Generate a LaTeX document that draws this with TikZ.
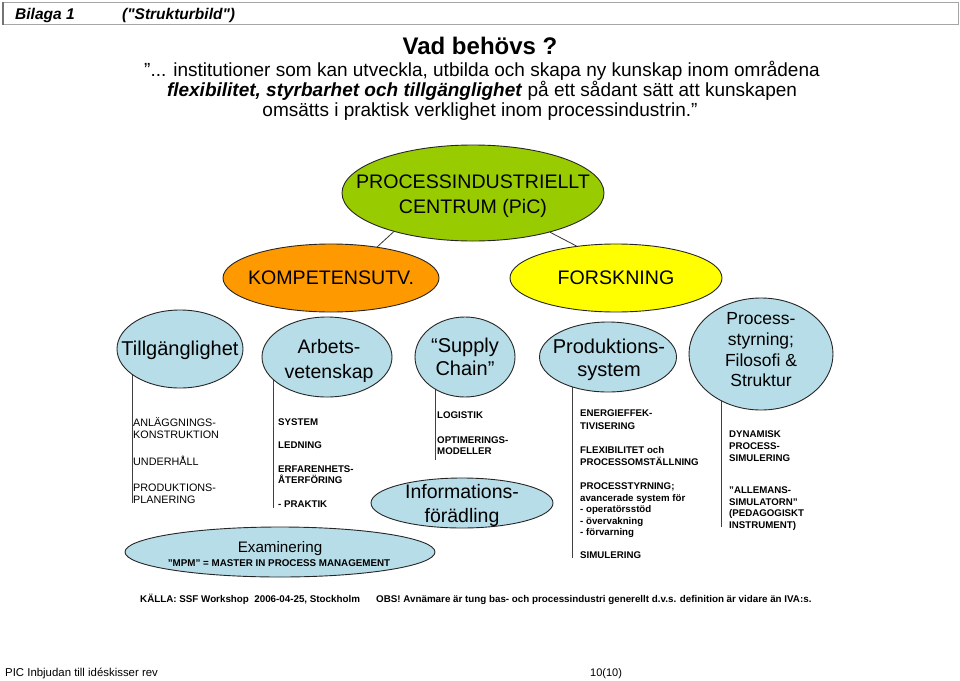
\documentclass[tikz,border=0pt]{standalone}
\usepackage{fontspec}
\setmainfont{Liberation Sans}
\newfontfamily\hdrfont{Liberation Sans}
\usetikzlibrary{shapes.geometric,backgrounds}
\definecolor{picgreen}{HTML}{99CC00}
\definecolor{komporange}{HTML}{FF9900}
\definecolor{forsyellow}{HTML}{FFFF00}
\definecolor{blobblue}{HTML}{B7DDE8}
\definecolor{framegray}{HTML}{A6A6A6}
\newcommand\pxf[2]{\fontsize{#1pt}{#2pt}\selectfont}
\begin{document}
\begin{tikzpicture}[x=1pt,y=-1pt,
  blob/.style={ellipse, draw=black!85, line width=0.9pt, inner sep=0pt},
  lbl/.style={align=center, inner sep=0pt},
  li/.style={anchor=base west, inner sep=0pt, font=\bfseries\pxf{9.7}{9.7}},
  lireg/.style={anchor=base west, inner sep=0pt, font=\pxf{10.8}{10.8}},
  stem/.style={draw=black!75, line width=1pt},
  link/.style={draw=black!80, line width=0.8pt}]
\useasboundingbox (0,0) rectangle (960,680);

% header
\node[draw=framegray, line width=0.8pt, minimum width=955pt, minimum height=22pt, anchor=north west, inner sep=0pt] (hdr) at (3,2) {};
\draw[black!55, line width=1.2pt] (hdr.north west) -- (hdr.south west);
\node[anchor=base west, inner sep=0pt, font=\hdrfont\bfseries\itshape\pxf{15.5}{15.5}] (bil) at (15,19) {Bilaga 1};
\node[anchor=base west, inner sep=0pt, font=\hdrfont\bfseries\itshape\pxf{15.5}{15.5}] (stb) at (122,19) {("Strukturbild")};

% title and quote
\node[anchor=base, inner sep=0pt, font=\bfseries\pxf{24}{24}] (title) at (480,54) {Vad behövs ?};
\node[anchor=base, inner sep=0pt, font=\pxf{19}{19}] (q1) at (482,76) {”... institutioner som kan utveckla, utbilda och skapa ny kunskap inom områdena};
\node[anchor=base, inner sep=0pt, font=\pxf{19}{19}] (q2) at (482,96) {\textbf{\textit{flexibilitet, styrbarhet och tillgänglighet}} på ett sådant sätt att kunskapen};
\node[anchor=base, inner sep=0pt, font=\pxf{19}{19}] (q3) at (480,116) {omsätts i praktisk verklighet inom processindustrin.”};

% main ellipses
\node[blob, fill=picgreen, minimum width=262pt, minimum height=96pt] (pic) at (473,193) {};
\node[lbl, font=\pxf{19.6}{25}] (pict) at (473,196) {PROCESSINDUSTRIELLT\\CENTRUM (PiC)};
\node[blob, fill=komporange, minimum width=216pt, minimum height=68pt] (komp) at (331,278) {};
\node[lbl, font=\pxf{19.6}{25}] (kompt) at (komp) {KOMPETENSUTV.};
\node[blob, fill=forsyellow, minimum width=212pt, minimum height=68pt] (fors) at (616,278) {};
\node[lbl, font=\pxf{19.6}{25}] (forst) at (fors) {FORSKNING};
\draw[link] (pic.206) -- (komp.34);
\draw[link] (pic.333) -- (fors.141);

% blue ellipses
\node[blob, fill=blobblue, minimum width=126pt, minimum height=78pt] (tg) at (180,349) {};
\node[lbl, font=\pxf{20}{24}] (tgt) at (180,350) {Tillgänglighet};
\node[blob, fill=blobblue, minimum width=130pt, minimum height=80pt] (ab) at (327,357) {};
\node[lbl, font=\pxf{19.5}{25}] (abt) at (329,361) {Arbets-\\vetenskap};
\node[blob, fill=blobblue, minimum width=100pt, minimum height=80pt] (sc) at (465,357) {};
\node[lbl, font=\pxf{20}{23}] (sct) at (465,357) {“Supply\\Chain”};
\node[blob, fill=blobblue, minimum width=137pt, minimum height=70pt] (ps) at (608,357) {};
\node[lbl, font=\pxf{20}{23}] (pst) at (609,360) {Produktions-\\system};
\node[blob, fill=blobblue, minimum width=144pt, minimum height=112pt] (pr) at (761,354) {};
\node[lbl, font=\pxf{17.5}{20.7}] (prt) at (761,350) {Process-\\styrning;\\Filosofi \&\\Struktur};

% stems
\coordinate (tgend) at (132,503);
\coordinate (abend) at (273,508);
\coordinate (scend) at (435,460);
\coordinate (psend) at (572,558);
\coordinate (prend) at (721,527);
\begin{scope}[on background layer]
\fill[white] (0,0) rectangle (960,680);
\draw[stem] (tgend) -- (tgend |- tg.center);
\draw[stem] (abend) -- (abend |- ab.center);
\draw[stem] (scend) -- (scend |- sc.center);
\draw[stem] (psend) -- (psend |- ps.center);
\draw[stem] (prend) -- (prend |- pr.center);
\end{scope}

% column A
\node[lireg] (a1) at (133,426) {ANLÄGGNINGS-};
\node[lireg] (a2) at (133,438) {KONSTRUKTION};
\node[lireg] (a3) at (133,465) {UNDERHÅLL};
\node[lireg] (a4) at (133,491) {PRODUKTIONS-};
\node[lireg] (a5) at (133,503) {PLANERING};
% column B
\node[li] (b1) at (278,425) {SYSTEM};
\node[li] (b2) at (278,448) {LEDNING};
\node[li] (b3) at (278,472) {ERFARENHETS-};
\node[li] (b4) at (278,483) {ÅTERFÖRING};
\node[li] (b5) at (278,507) {- PRAKTIK};
% column C
\node[li] (c1) at (437,418) {LOGISTIK};
\node[li] (c2) at (437,443) {OPTIMERINGS-};
\node[li] (c3) at (437,454) {MODELLER};
% column D
\node[li] (d1) at (580,416) {ENERGIEFFEK-};
\node[li] (d2) at (580,429) {TIVISERING};
\node[li] (d3) at (580,453) {FLEXIBILITET och};
\node[li] (d4) at (580,465) {PROCESSOMSTÄLLNING};
\node[li] (d5) at (580,489) {PROCESSTYRNING;};
\node[li] (d6) at (580,501) {avancerade system för};
\node[li] (d7) at (580,512.5) {- operatörsstöd};
\node[li] (d8) at (580,524) {- övervakning};
\node[li] (d9) at (580,535.5) {- förvarning};
\node[li] (d10) at (580,558) {SIMULERING};
% column E
\node[li] (e1) at (729,437) {DYNAMISK};
\node[li] (e2) at (729,449) {PROCESS-};
\node[li] (e3) at (729,461) {SIMULERING};
\node[li] (e4) at (729,493) {”ALLEMANS-};
\node[li] (e5) at (729,505) {SIMULATORN”};
\node[li] (e6) at (729,516.5) {(PEDAGOGISKT};
\node[li] (e7) at (729,528) {INSTRUMENT)};

% lower ellipses
\node[blob, fill=blobblue, minimum width=310pt, minimum height=50pt] (ex) at (280,552) {};
\node[anchor=base, inner sep=0pt, font=\pxf{15.2}{15.2}] (ext) at (280,552) {Examinering};
\node[anchor=base, inner sep=0pt, font=\bfseries\pxf{9.8}{9.8}] (mpm) at (279,566.5) {”MPM” = MASTER IN PROCESS MANAGEMENT};
\node[blob, fill=blobblue, minimum width=182pt, minimum height=50pt] (inf) at (462,503) {};
\node[lbl, font=\pxf{19.5}{24}] (inft) at (462,505) {Informations-\\förädling};

% footer
\node[anchor=base west, inner sep=0pt, font=\bfseries\pxf{9.8}{9.8}] (src) at (140,602) {KÄLLA: SSF Workshop\ \ 2006-04-25, Stockholm};
\node[anchor=base west, inner sep=0pt, font=\bfseries\pxf{9.8}{9.8}] (obs) at (376,602) {OBS! Avnämare är tung bas- och processindustri generellt d.v.s. definition är vidare än IVA:s.};
\node[anchor=base west, inner sep=0pt, font=\pxf{11.4}{11.4}] (pg) at (5,676) {PIC Inbjudan till idéskisser rev};
\node[anchor=base west, inner sep=0pt, font=\pxf{11}{11}] (pn) at (590,676) {10(10)};
\end{tikzpicture}
\end{document}
